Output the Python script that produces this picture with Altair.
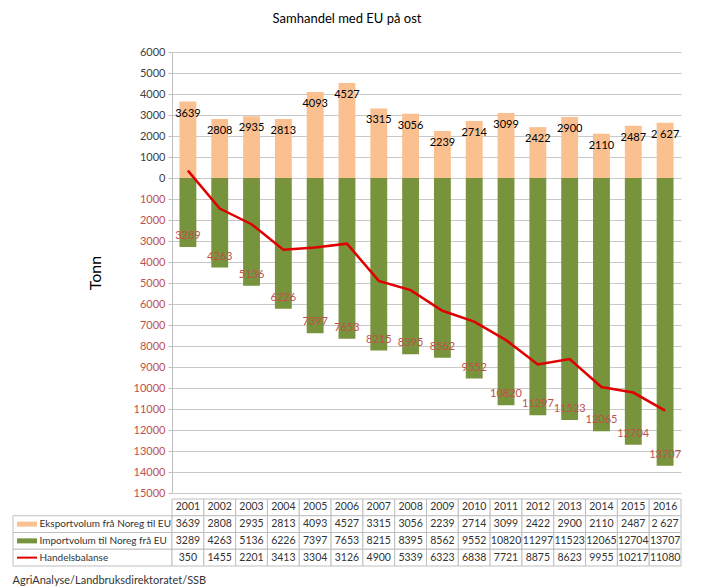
import altair as alt
import pandas as pd

years = ["2001", "2002", "2003", "2004", "2005", "2006", "2007", "2008",
         "2009", "2010", "2011", "2012", "2013", "2014", "2015", "2016"]
export_vals = [3639, 2808, 2935, 2813, 4093, 4527, 3315, 3056,
               2239, 2714, 3099, 2422, 2900, 2110, 2487, 2627]
export_text = ["3639", "2808", "2935", "2813", "4093", "4527", "3315", "3056",
               "2239", "2714", "3099", "2422", "2900", "2110", "2487", "2 627"]
import_vals = [3289, 4263, 5136, 6226, 7397, 7653, 8215, 8395,
               8562, 9552, 10820, 11297, 11523, 12065, 12704, 13707]
balance_vals = [350, -1455, -2201, -3413, -3304, -3126, -4900, -5339,
                -6323, -6838, -7721, -8875, -8623, -9955, -10217, -11080]
row_names = ["hdr", "Eksportvolum frå Noreg til EU",
             "Importvolum til Noreg frå EU", "Handelsbalanse"]
swatch_colors = ["#FAC090", "#77933C", "#E00000"]
swatch_widths = [5, 5, 2]
y_ticks = list(range(-15000, 6001, 1000))

FONT = "Lato"
GRID = "#C8C8C8"
BORDER = "#BFBFBF"

df = pd.DataFrame({
    "year": years,
    "export": export_vals,
    "export_lbl": export_text,
    "imp_neg": [-v for v in import_vals],
    "imp_lbl": [str(v) for v in import_vals],
    "balance": balance_vals,
})

yscale = alt.Scale(domain=[-15000, 6000], nice=False, zero=True)
yaxis = alt.Axis(
    values=y_ticks,
    labelExpr="format(abs(datum.value), 'd')",
    labelColor={"condition": {"test": "datum.value < 0", "value": "#C0504D"},
                "value": "#404040"},
    labelFontSize=11, labelPadding=3, tickSize=4, tickColor=BORDER,
    domainColor=BORDER, gridColor=GRID, titleFontSize=16,
    titleFontWeight="normal", titleColor="#000000", titlePadding=30,
)


def ych(field):
    return alt.Y(f"{field}:Q", scale=yscale, axis=yaxis, title="Tonn")


xmain = alt.X("year:N", sort=years, axis=None,
              scale=alt.Scale(paddingInner=0.47, paddingOuter=0.235))

base = alt.Chart(df)
exp_bar = base.mark_bar(color="#FAC090").encode(x=xmain, y=ych("export"))
imp_bar = base.mark_bar(color="#77933C").encode(x=xmain, y=ych("imp_neg"))
bal_line = base.mark_line(color="#E00000", strokeWidth=2.5).encode(
    x=xmain, y=ych("balance"))
exp_txt = base.mark_text(dy=12, fontSize=11, color="#000000").encode(
    x=xmain, y=ych("export"), text="export_lbl:N")
imp_txt = base.mark_text(dy=-11, fontSize=11, color="#C0504D").encode(
    x=xmain, y=ych("imp_neg"), text="imp_lbl:N")

main = alt.layer(exp_bar, imp_bar, bal_line, exp_txt, imp_txt).properties(
    width=509, height=441)

# table
cells = []
for i, y in enumerate(years):
    cells.append({"year": y, "row": row_names[0], "text": y})
    cells.append({"year": y, "row": row_names[1], "text": export_text[i]})
    cells.append({"year": y, "row": row_names[2], "text": str(import_vals[i])})
    cells.append({"year": y, "row": row_names[3], "text": str(abs(balance_vals[i]))})
tdf = pd.DataFrame(cells)
sdf = pd.DataFrame({"row": row_names[1:], "col": swatch_colors, "sw": swatch_widths})

xt = alt.X("year:N", sort=years, axis=None,
           scale=alt.Scale(paddingInner=0, paddingOuter=0))
yt = alt.Y("row:N", sort=row_names, title=None,
           scale=alt.Scale(paddingInner=0, paddingOuter=0),
           axis=alt.Axis(labelAlign="left", labelPadding=133, ticks=False,
                         domain=False, labelFontSize=10, labelColor="#333333",
                         labelLimit=200,
                         labelExpr="datum.value == 'hdr' ? '' : datum.value"))

cell_rect = alt.Chart(tdf).mark_rect(fill="white", stroke=BORDER, strokeWidth=1).encode(
    x=xt, y=yt)
cell_txt = alt.Chart(tdf).mark_text(fontSize=10.5, color="#333333").encode(
    x=xt, y=yt, text="text:N")
lab_rect = alt.Chart(sdf).mark_rect(fill="white", stroke=BORDER, strokeWidth=1).encode(
    x=alt.value(-159), x2=alt.value(0), y=yt)
swatch = alt.Chart(sdf).mark_rule().encode(
    x=alt.value(-155), x2=alt.value(-135), y=yt,
    color=alt.Color("col:N", scale=None),
    strokeWidth=alt.StrokeWidth("sw:Q", scale=None))

table = alt.layer(lab_rect, cell_rect, cell_txt, swatch).properties(
    width=509, height=67,
    title=alt.TitleParams("AgriAnalyse/Landbruksdirektoratet/SSB", orient="bottom",
                          anchor="start", frame="bounds", fontSize=11,
                          fontWeight="normal", color="#333333", offset=8))

chart = alt.vconcat(main, table, spacing=0).properties(
    title=alt.TitleParams("Samhandel med EU på ost", fontSize=13, fontWeight="normal",
                          color="#000000", anchor="middle", frame="bounds", offset=20),
    padding={"left": 4, "top": 5, "right": 5, "bottom": 5},
).configure(font=FONT).configure_view(stroke=None)

chart.save("out.html", embed_options={"renderer": "svg", "actions": False})
